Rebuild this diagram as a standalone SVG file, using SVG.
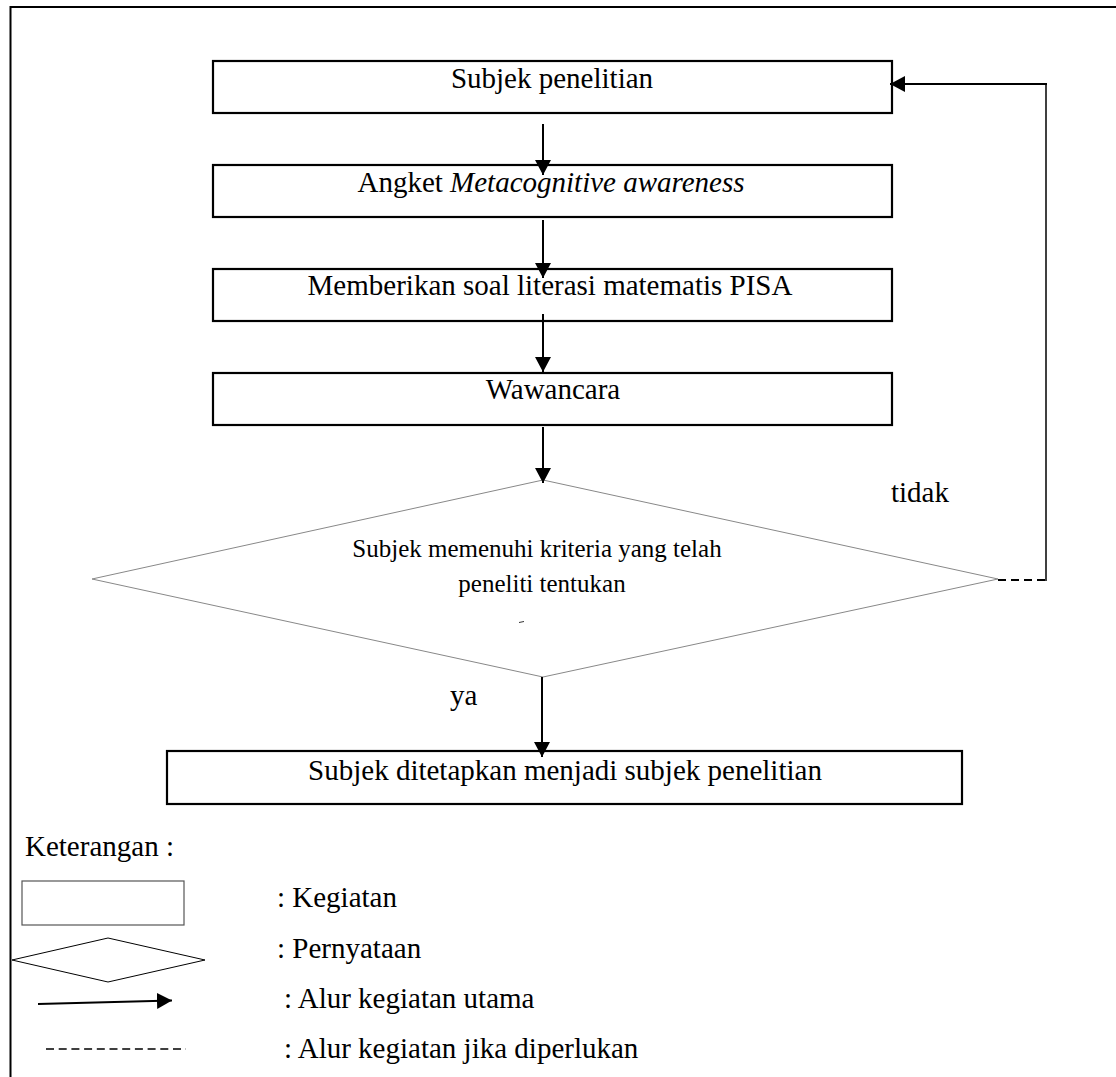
<svg xmlns="http://www.w3.org/2000/svg" width="1116" height="1077" viewBox="0 0 1116 1077">
  <style>
    text { font-family: "Liberation Serif", "Times New Roman", serif; fill: #000; }
    .t29 { font-size: 29px; }
    .t25 { font-size: 25px; }
    .box { fill: #fff; stroke: #000; stroke-width: 2.2; }
    .dia { fill: none; stroke: #888; stroke-width: 1; }
    .conn { fill: none; stroke: #000; stroke-width: 2; }
    .dash { fill: none; stroke: #000; stroke-width: 2; stroke-dasharray: 8 5; }
  </style>
  <defs>
    <marker id="arr" viewBox="0 0 15 16" refX="15" refY="8" markerWidth="15" markerHeight="16" markerUnits="userSpaceOnUse" orient="auto">
      <path d="M0,0 L15,8 L0,16 z" fill="#000"/>
    </marker>
  </defs>
  <rect width="1116" height="1077" fill="#fff"/>
  <!-- outer frame (top and left edges visible) -->
  <g id="frame">
    <line x1="10.5" y1="7" x2="1116" y2="7" stroke="#000" stroke-width="2"/>
    <line x1="10.5" y1="6" x2="10.5" y2="1077" stroke="#000" stroke-width="2"/>
  </g>

  <g id="node-subjek">
    <rect class="box" x="213" y="61" width="679" height="52"/>
    <text class="t29" x="552" y="88" text-anchor="middle">Subjek penelitian</text>
  </g>
  <g id="node-angket">
    <rect class="box" x="213" y="165" width="679" height="52"/>
    <text class="t29" x="551" y="192" text-anchor="middle">Angket <tspan font-style="italic">Metacognitive awareness</tspan></text>
  </g>
  <g id="node-soal">
    <rect class="box" x="213" y="269" width="679" height="52"/>
    <text class="t29" x="550" y="295" text-anchor="middle">Memberikan soal literasi matematis PISA</text>
  </g>
  <g id="node-wawancara">
    <rect class="box" x="213" y="373" width="679" height="52"/>
    <text class="t29" x="553" y="399" text-anchor="middle">Wawancara</text>
  </g>
  <g id="node-kriteria">
    <polygon class="dia" points="543,480 998,579 543,677 92,579"/>
    <text class="t25" x="537" y="557" text-anchor="middle">Subjek memenuhi kriteria yang telah</text>
    <text class="t25" x="542" y="592" text-anchor="middle">peneliti tentukan</text>
    <line x1="519" y1="622.5" x2="524" y2="621.5" stroke="#333" stroke-width="1"/>
  </g>
  <g id="node-ditetapkan">
    <rect class="box" x="167" y="751" width="795" height="53"/>
    <text class="t29" x="565" y="780" text-anchor="middle">Subjek ditetapkan menjadi subjek penelitian</text>
  </g>

  <g id="connectors">
    <line class="conn" x1="543" y1="124" x2="543" y2="175" marker-end="url(#arr)"/>
    <line class="conn" x1="543" y1="220" x2="543" y2="278" marker-end="url(#arr)"/>
    <line class="conn" x1="543" y1="314" x2="543" y2="372" marker-end="url(#arr)"/>
    <line class="conn" x1="543" y1="427" x2="543" y2="483" marker-end="url(#arr)"/>
    <line class="conn" x1="542" y1="677" x2="542" y2="757" marker-end="url(#arr)"/>
    <line class="dash" x1="998" y1="580" x2="1046" y2="580"/>
    <line x1="1046" y1="581" x2="1046" y2="83" stroke="#000" stroke-width="1.5"/>
    <line class="conn" x1="1047" y1="84" x2="890" y2="84" marker-end="url(#arr)"/>
    <text class="t29" x="891" y="502">tidak</text>
    <text class="t29" x="450" y="705">ya</text>
  </g>

  <g id="legend">
    <text class="t29" x="25" y="856">Keterangan :</text>
    <rect x="22" y="881" width="162" height="44" fill="#fff" stroke="#555" stroke-width="1.2"/>
    <text class="t29" x="277" y="907">: Kegiatan</text>
    <polygon points="12,960 108,938 205,960 108,982" fill="#fff" stroke="#000" stroke-width="1"/>
    <text class="t29" x="277" y="958">: Pernyataan</text>
    <line x1="38" y1="1004" x2="172" y2="1000.5" stroke="#000" stroke-width="2" marker-end="url(#arr)"/>
    <text class="t29" x="284" y="1008">: Alur kegiatan utama</text>
    <line x1="46" y1="1049" x2="186" y2="1049" stroke="#000" stroke-width="1.5" stroke-dasharray="8 4.7"/>
    <text class="t29" x="284" y="1058">: Alur kegiatan jika diperlukan</text>
  </g>
</svg>
